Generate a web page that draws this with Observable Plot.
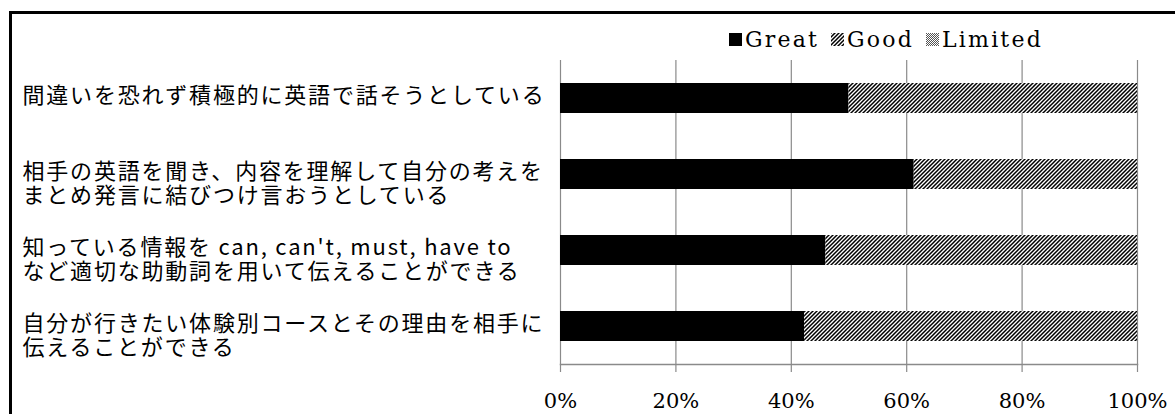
<!DOCTYPE html>
<html><head><meta charset="utf-8">
<script src="https://cdn.jsdelivr.net/npm/d3@7"></script>
<script src="https://cdn.jsdelivr.net/npm/@observablehq/plot@0.6"></script>
<style>
html,body{margin:0;padding:0;background:#fff;overflow:hidden;width:1175px;height:414px}
#frame{position:absolute;left:9px;top:11px;width:1200px;height:500px;border-top:3px solid #000;border-left:3px solid #000;box-sizing:border-box}
#chart{position:absolute;left:0;top:0}
#legend{position:absolute;left:729px;top:27px;display:flex;align-items:center;font-family:"DejaVu Serif",serif;font-size:22px;letter-spacing:2.2px;color:#000;white-space:nowrap}
#legend .sw{display:inline-block;margin-right:3px}
#legend .it{display:flex;align-items:center;margin-right:12px}
</style></head><body>
<svg width="0" height="0" style="position:absolute">
  <defs>
    <pattern id="hatch" patternUnits="userSpaceOnUse" width="4" height="4">
      <rect width="4" height="4" fill="#fff"/>
      <path d="M-1,1 l2,-2 M0,4 l4,-4 M3,5 l2,-2" stroke="#000" stroke-width="1.5"/>
    </pattern>
    <pattern id="dots" patternUnits="userSpaceOnUse" width="2" height="2">
      <rect width="2" height="2" fill="#fff"/>
      <rect width="1" height="1" fill="#555"/>
      <rect x="1" y="1" width="1" height="1" fill="#555"/>
    </pattern>
  </defs>
</svg>
<div id="frame"></div>
<div id="chart"></div>
<div id="legend"></div>
<script>
const items = [
  "間違いを恐れず積極的に英語で話そうとしている",
  "相手の英語を聞き、内容を理解して自分の考えを\nまとめ発言に結びつけ言おうとしている",
  "知っている情報を can, can't, must, have to\nなど適切な助動詞を用いて伝えることができる",
  "自分が行きたい体験別コースとその理由を相手に\n伝えることができる"
];
const series = ["Great", "Good", "Limited"];
const great = [50, 61.3, 46, 42.3];
const good = [50, 38.7, 54, 57.7];
const limited = [0, 0, 0, 0];
const xTicks = [0, 20, 40, 60, 80, 100];
const fills = ["#000", "url(#hatch)", "url(#dots)"];

const values = {Great: great, Good: good, Limited: limited};
const data = [];
series.forEach(s => items.forEach((it, i) => data.push({item: it, series: s, value: values[s][i]})));

const chart = Plot.plot({
  width: 1175,
  height: 414,
  marginLeft: 560,
  marginRight: 38,
  marginTop: 60,
  marginBottom: 50,
  x: {domain: [0, 100], axis: null},
  y: {domain: items, paddingInner: 0.61, paddingOuter: 0.305, axis: null},
  color: {domain: series, range: fills},
  marks: [
    Plot.ruleX(xTicks, {stroke: "#8a8a8a", strokeWidth: 1.2}),
    Plot.barX(data, Plot.stackX({x: "value", y: "item", fill: "series"})),
    Plot.frame({anchor: "bottom", stroke: "#8a8a8a", strokeWidth: 1.5}),
    Plot.axisX({ticks: xTicks, tickSize: 8, tickPadding: 21, tickFormat: d => d + "%",
      stroke: "#8a8a8a", strokeWidth: 1.2, fontFamily: "DejaVu Serif", fontSize: 21, fill: "#000", label: null}),
    Plot.text(items, {y: d => d, text: d => d, frameAnchor: "left", textAnchor: "start",
      lineAnchor: "top", dx: -538, dy: -12, lineHeight: 1.08,
      fontFamily: "Noto Sans CJK JP", fontSize: 22, fill: "#000"})
  ]
});
chart.querySelectorAll("text").forEach(t => {
  if (t.closest("[font-family='Noto Sans CJK JP']")) t.style.letterSpacing = "1.8px";
});
document.getElementById("chart").appendChild(chart);

const legend = document.getElementById("legend");
series.forEach((s, i) => {
  const it = document.createElement("span");
  it.className = "it";
  const sw = document.createElementNS("http://www.w3.org/2000/svg", "svg");
  sw.setAttribute("width", 13); sw.setAttribute("height", 13);
  sw.setAttribute("class", "sw");
  const r = document.createElementNS("http://www.w3.org/2000/svg", "rect");
  r.setAttribute("width", 13); r.setAttribute("height", 13); r.setAttribute("fill", fills[i]);
  sw.appendChild(r);
  it.appendChild(sw);
  const tx = document.createElement("span");
  tx.textContent = s;
  it.appendChild(tx);
  legend.appendChild(it);
});
</script>
</body></html>
